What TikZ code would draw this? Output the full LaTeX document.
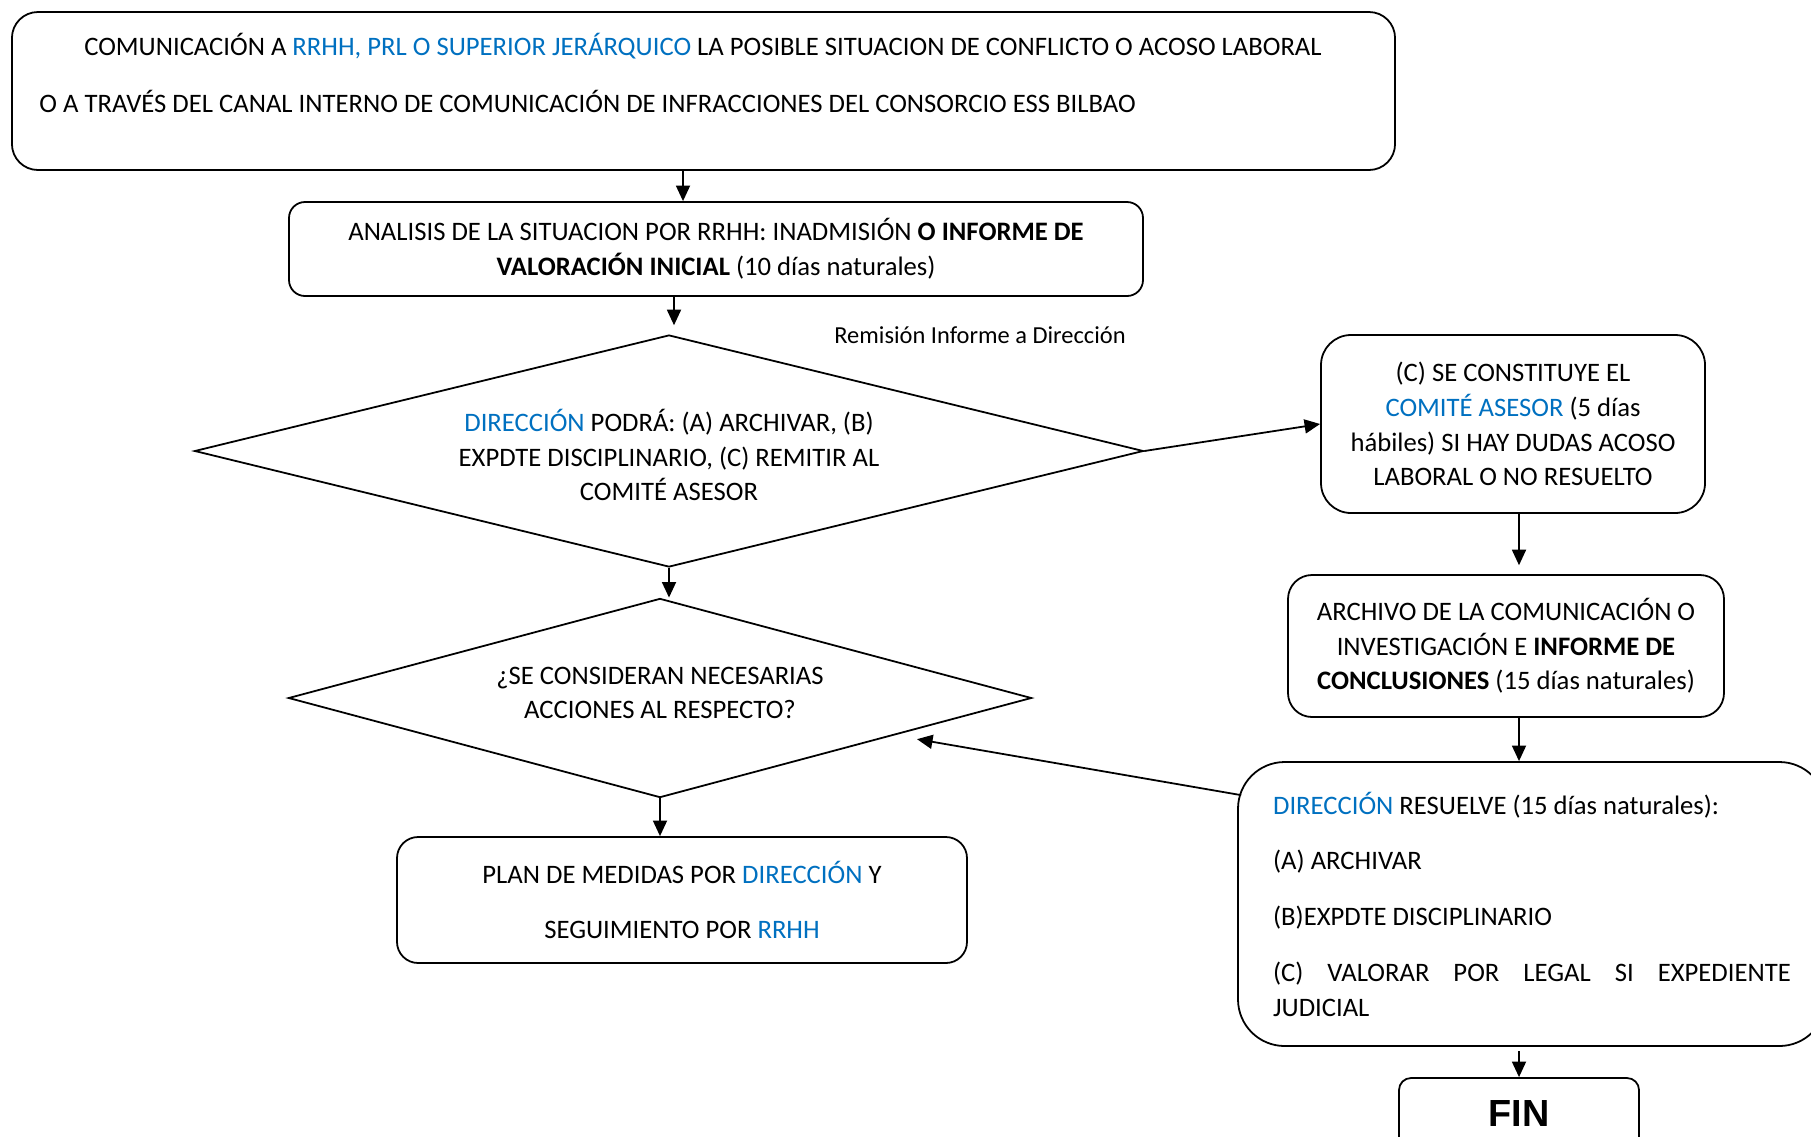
\documentclass[tikz,border=0pt]{standalone}
\usepackage{fontspec}
\setmainfont{Carlito}
\newfontfamily\finfont{Liberation Sans}
\usetikzlibrary{shapes.geometric,arrows.meta,calc}

\definecolor{azul}{RGB}{0,112,192}
\newcommand{\pxl}{0.45pt}
\newcommand{\az}[1]{\textcolor{azul}{#1}}

\tikzset{
	caja/.style={draw, line width=0.8pt, rounded corners=#1, align=center, inner sep=0pt},
	rombo/.style={draw, diamond, line width=0.8pt, inner sep=0pt},
	texto/.style={inner sep=0pt, align=center},
	flecha/.style={line width=0.8pt, -{Triangle[length=7pt,width=6.3pt]}},
}

\begin{document}
\begin{tikzpicture}[x=\pxl, y=-\pxl, font=\fontsize{12pt}{15.6pt}\selectfont]
	\useasboundingbox (0,0) rectangle (1811,1136);
	\clip (0,0) rectangle (1811,1136);

	% cajas
	\node[caja=11.7pt, minimum width=622.4pt, minimum height=71.1pt] (com) at (703.5,91) {};
	\node[texto] (com-a) at (703,46) {COMUNICACIÓN A \az{RRHH, PRL O SUPERIOR JERÁRQUICO} LA POSIBLE SITUACION DE CONFLICTO O ACOSO LABORAL};
	\node[texto, anchor=west] (com-b) at (39,101) {O A TRAVÉS DEL CANAL INTERNO DE COMUNICACIÓN DE INFRACCIONES DEL CONSORCIO ESS BILBAO};

	\node[caja=7.2pt, minimum width=384.3pt, minimum height=42.3pt] (ana) at (716,249)
		{ANALISIS DE LA SITUACION POR RRHH: INADMISIÓN \textbf{O INFORME DE}\\ \textbf{VALORACIÓN INICIAL} (10 días naturales)};

	\node[rombo, minimum width=427pt, minimum height=104.4pt] (dir) at (669,451) {};
	\node[texto] (dir-txt) at (669,455)
		{\az{DIRECCIÓN} PODRÁ: (A) ARCHIVAR, (B)\\ EXPDTE DISCIPLINARIO, (C) REMITIR AL\\ COMITÉ ASESOR};
	\node[texto, font=\fontsize{11pt}{13pt}\selectfont] (remision) at (980,335) {Remisión Informe a Dirección};

	\node[caja=13.5pt, minimum width=172.8pt, minimum height=80.1pt] (comite) at (1513,424)
		{(C) SE CONSTITUYE EL\\ \az{COMITÉ ASESOR} (5 días\\ hábiles) SI HAY DUDAS ACOSO\\ LABORAL O NO RESUELTO};

	\node[caja=10.8pt, minimum width=196.2pt, minimum height=63.9pt] (archivo) at (1506,646)
		{ARCHIVO DE LA COMUNICACIÓN O\\ INVESTIGACIÓN E \textbf{INFORME DE}\\ \textbf{CONCLUSIONES} (15 días naturales)};

	\node[caja=21pt, align=justify, text width=233pt, minimum width=264.6pt, minimum height=127.8pt] (resuelve) at (1532,904)
		{\az{DIRECCIÓN} RESUELVE (15 días naturales):\\[9.5pt]
		(A) ARCHIVAR\\[9.5pt]
		(B)EXPDTE DISCIPLINARIO\\[9.5pt]
		(C) VALORAR POR LEGAL SI EXPEDIENTE\linebreak JUDICIAL};

	\node[caja=5.4pt, minimum width=108pt, minimum height=36pt] (fin) at (1519,1118) {};
	\node[texto, font=\finfont\bfseries\fontsize{17pt}{20pt}\selectfont] (fin-txt) at (1519,1113) {FIN};

	\node[rombo, minimum width=334.4pt, minimum height=89.6pt] (dec) at (660,698) {};
	\node[texto] (dec-txt) at (660,693) {¿SE CONSIDERAN NECESARIAS\\ ACCIONES AL RESPECTO?};

	\node[caja=9.5pt, minimum width=256.5pt, minimum height=56.7pt] (plan) at (682,900)
		{PLAN DE MEDIDAS POR \az{DIRECCIÓN} Y\\[9pt] SEGUIMIENTO POR \az{RRHH}};

	% flechas
	\coordinate (a1) at (683,0);
	\coordinate (a2) at (674,0);
	\coordinate (eje) at (1519,0);
	\coordinate (r-out) at ($(resuelve.north west)+(4,34)$);
	\coordinate (d-in) at ($(dec.east)!0.31!(dec.south)+(0,10)$);

	\draw[flecha] (com.south -| a1) -- (ana.north -| a1);
	\draw[flecha, shorten >=4pt] (ana.south -| a2) -- (dir.north -| a2);
	\draw[flecha] (dir.east) -- (comite.west);
	\draw[flecha, shorten >=4pt] (comite.south -| eje) -- (archivo.north -| eje);
	\draw[flecha] (archivo.south -| eje) -- (resuelve.north -| eje);
	\draw[flecha] (r-out) -- (d-in);
	\draw[flecha] (dir.south) -- (dir.south |- dec.north);
	\draw[flecha] (dec.south) -- (dec.south |- plan.north);
	\draw[flecha, shorten <=2pt] (resuelve.south -| fin.north) -- (fin.north);
\end{tikzpicture}
\end{document}
